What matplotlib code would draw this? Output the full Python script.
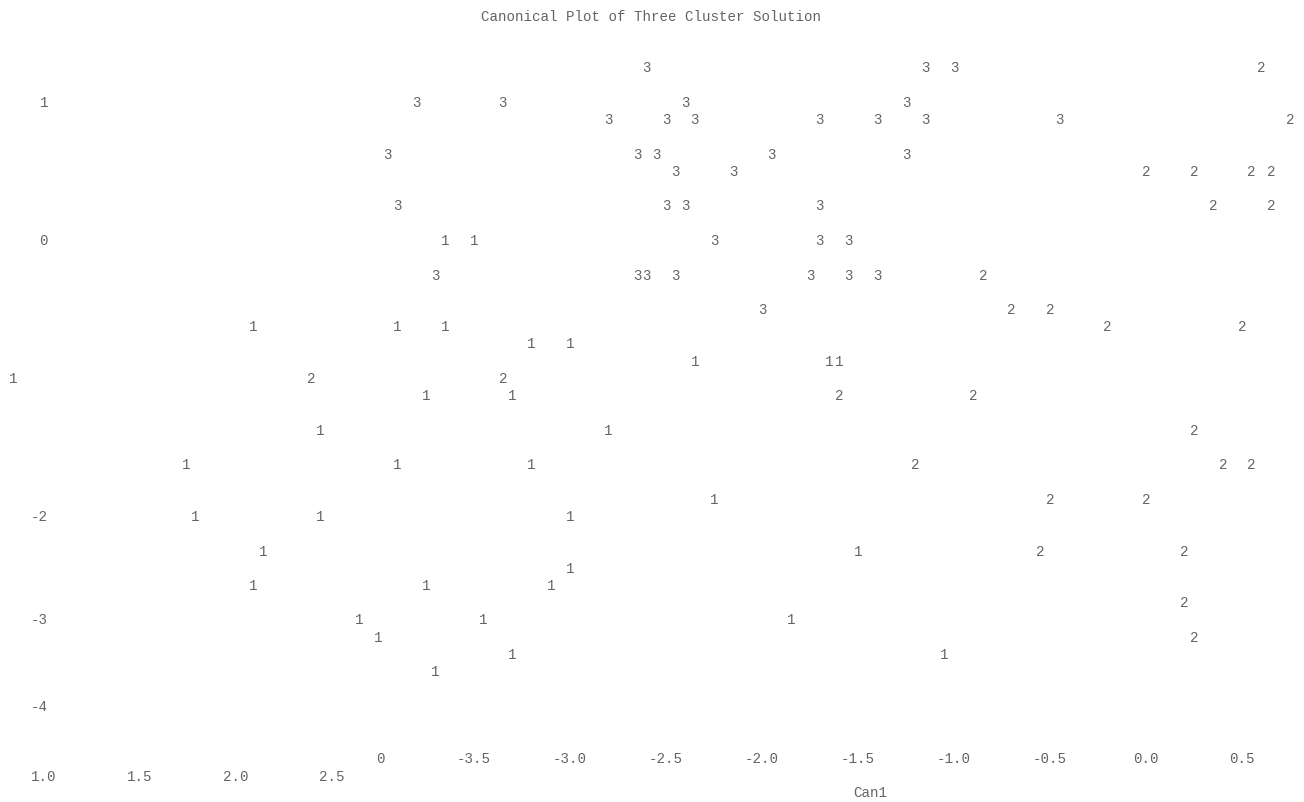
import matplotlib
matplotlib.use("Agg")
import matplotlib.pyplot as plt

# ---- data: canonical scores (Can1, Can2) per cluster ----
c1_x = [-3.65, -3.50, -4.65, -3.90, -3.65, -3.20, -3.00, -2.35, -1.65, -1.60,
        -5.90, -3.75, -3.30, -4.30, -2.80, -5.00, -3.90, -3.20, -2.25, -4.95,
        -4.30, -3.00, -4.60, -1.50, -3.00, -4.65, -3.75, -3.10, -4.10, -3.45,
        -1.85, -4.00, -3.30, -1.05, -3.70]
c1_y = [0.0, 0.0, -0.625, -0.625, -0.625, -0.75, -0.75, -0.875, -0.875, -0.875,
        -1.0, -1.125, -1.125, -1.375, -1.375, -1.625, -1.625, -1.625, -1.875, -2.0,
        -2.0, -2.0, -2.25, -2.25, -2.375, -2.5, -2.5, -2.5, -2.75, -2.75,
        -2.75, -2.875, -3.0, -3.0, -3.125]

c2_x = [0.60, 0.75, 0.00, 0.25, 0.55, 0.65, 0.35, 0.65, -0.85, -0.70,
        -0.50, -0.20, 0.50, -4.35, -3.35, -1.60, -0.90, 0.25, -1.20, 0.40,
        0.55, -0.50, 0.00, -0.55, 0.20, 0.20, 0.25]
c2_y = [1.25, 0.875, 0.5, 0.5, 0.5, 0.5, 0.25, 0.25, -0.25, -0.5,
        -0.5, -0.625, -0.625, -1.0, -1.0, -1.125, -1.125, -1.375, -1.625, -1.625,
        -1.625, -1.875, -1.875, -2.25, -2.25, -2.625, -2.875]

c3_x = [-2.60, -1.15, -1.00, -3.80, -3.35, -2.40, -1.25, -2.80, -2.50, -2.35,
        -1.70, -1.40, -1.15, -0.45, -3.95, -2.65, -2.55, -1.95, -1.25, -2.45,
        -2.15, -3.90, -2.50, -2.40, -1.70, -2.25, -1.70, -1.55, -3.70, -2.65,
        -2.60, -2.45, -1.75, -1.55, -1.40, -2.00]
c3_y = [1.25, 1.25, 1.25, 1.0, 1.0, 1.0, 1.0, 0.875, 0.875, 0.875,
        0.875, 0.875, 0.875, 0.875, 0.625, 0.625, 0.625, 0.625, 0.625, 0.5,
        0.5, 0.25, 0.25, 0.25, 0.25, 0.0, 0.0, 0.0, -0.25, -0.25,
        -0.25, -0.25, -0.25, -0.25, -0.25, -0.5]

clusters = ["1", "2", "3"]

# tick labels as printed (positions as in the printout)
ytick_labels = ["1", "0", "-2", "-3", "-4"]
ytick_pos = [1.0, 0.0, -2.0, -2.75, -3.375]

xtick_labels_row1 = ["0", "-3.5", "-3.0", "-2.5", "-2.0", "-1.5", "-1.0", "-0.5", "0.0", "0.5"]
xtick_pos_row1 = [-3.99, -3.5, -3.0, -2.5, -2.0, -1.5, -1.0, -0.5, 0.0, 0.5]
xtick_labels_row2 = ["1.0", "1.5", "2.0", "2.5"]
xtick_pos_row2 = [-5.74, -5.24, -4.74, -4.24]

title = "Canonical Plot of Three Cluster Solution"
xlabel = "Can1"

# ---- figure ----
W, H, DPI = 1304, 802, 100
fig = plt.figure(figsize=(W / DPI, H / DPI), dpi=DPI)
ax = fig.add_axes([0, 0, 1, 1])
ppx, ppy = 192.0, 138.0          # pixels per unit
x0, y0 = 1146.0, 241.0           # pixel of (0, 0)
ax.set_xlim(-x0 / ppx, (W - x0) / ppx)
ax.set_ylim((y0 - H) / ppy, y0 / ppy)
ax.axis("off")

font = dict(family=["Liberation Mono", "DejaVu Sans Mono"], fontsize=10.2, color="#646464")

for lab, xs, ys in zip(clusters, [c1_x, c2_x, c3_x], [c1_y, c2_y, c3_y]):
    for x, y in zip(xs, ys):
        ax.text(x, y, lab, ha="center", va="center", **font)

ylab_x = (48 - x0) / ppx
for lab, y in zip(ytick_labels, ytick_pos):
    ax.text(ylab_x, y, lab, ha="right", va="center", **font)

row1_y = (y0 - 759) / ppy
row2_y = (y0 - 777) / ppy
for lab, x in zip(xtick_labels_row1, xtick_pos_row1):
    ax.text(x, row1_y, lab, ha="center", va="center", **font)
for lab, x in zip(xtick_labels_row2, xtick_pos_row2):
    ax.text(x, row2_y, lab, ha="center", va="center", **font)

ax.text((870 - x0) / ppx, (y0 - 793) / ppy, xlabel, ha="center", va="center", **font)
ax.text((651 - x0) / ppx, (y0 - 17) / ppy, title, ha="center", va="center", **font)

fig.savefig("out.png", dpi=DPI)
